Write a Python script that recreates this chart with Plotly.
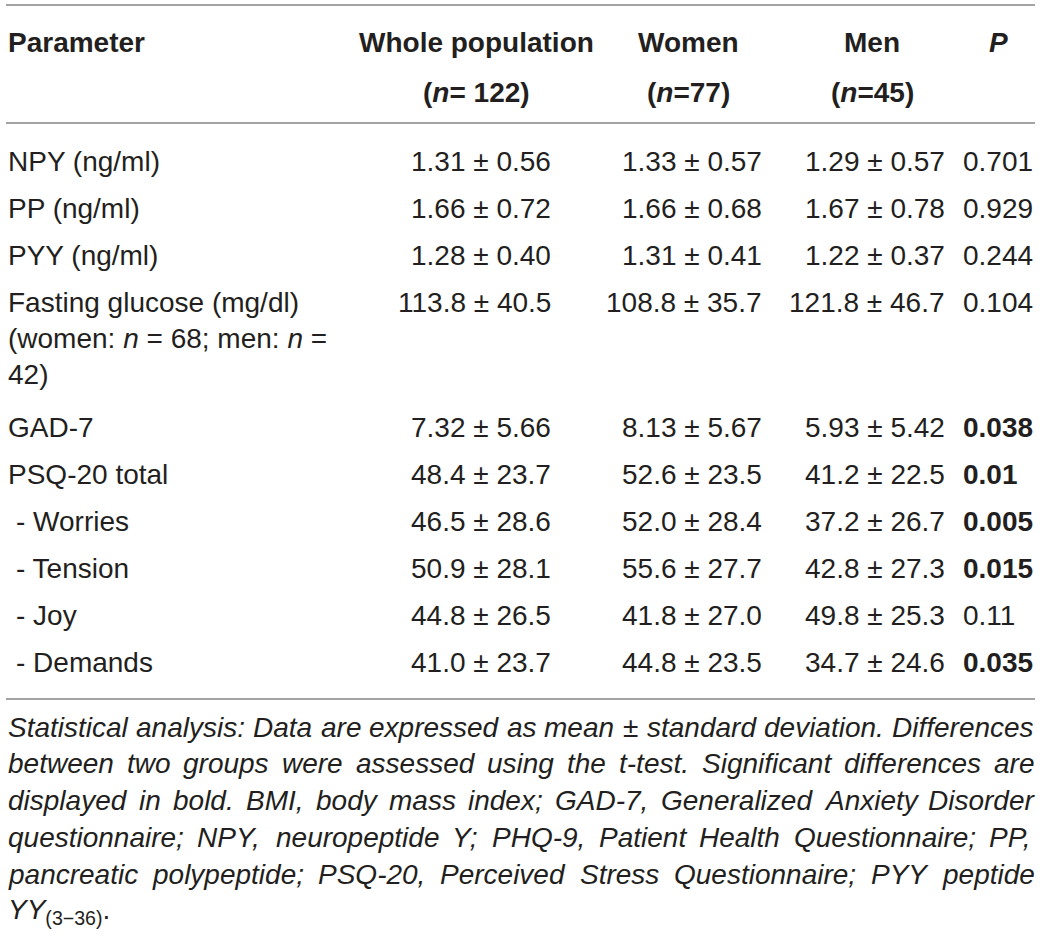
import plotly.graph_objects as go

# ---------------- data ----------------
parameters = [
    "NPY (ng/ml)",
    "PP (ng/ml)",
    "PYY (ng/ml)",
    "Fasting glucose (mg/dl)|(women: <i>n</i> = 68; men: <i>n</i> =|42)",
    "GAD-7",
    "PSQ-20 total",
    "- Worries",
    "- Tension",
    "- Joy",
    "- Demands",
]
indented = [False, False, False, False, False, False, True, True, True, True]

whole_mean = ["1.31", "1.66", "1.28", "113.8", "7.32", "48.4", "46.5", "50.9", "44.8", "41.0"]
whole_sd = ["0.56", "0.72", "0.40", "40.5", "5.66", "23.7", "28.6", "28.1", "26.5", "23.7"]
women_mean = ["1.33", "1.66", "1.31", "108.8", "8.13", "52.6", "52.0", "55.6", "41.8", "44.8"]
women_sd = ["0.57", "0.68", "0.41", "35.7", "5.67", "23.5", "28.4", "27.7", "27.0", "23.5"]
men_mean = ["1.29", "1.67", "1.22", "121.8", "5.93", "41.2", "37.2", "42.8", "49.8", "34.7"]
men_sd = ["0.57", "0.78", "0.37", "46.7", "5.42", "22.5", "26.7", "27.3", "25.3", "24.6"]
p_values = ["0.701", "0.929", "0.244", "0.104", "0.038", "0.01", "0.005", "0.015", "0.11", "0.035"]
significant = [False, False, False, False, True, True, True, True, False, True]

headers = ["Parameter", "Whole population", "Women", "Men", "<i>P</i>"]
header_n = ["", "(<i>n</i>= 122)", "(<i>n</i>=77)", "(<i>n</i>=45)", ""]

footnote_lines = [
    "Statistical analysis: Data are expressed as mean ± standard deviation. Differences",
    "between two groups were assessed using the t-test. Significant differences are",
    "displayed in bold. BMI, body mass index; GAD-7, Generalized Anxiety Disorder",
    "questionnaire; NPY, neuropeptide Y; PHQ-9, Patient Health Questionnaire; PP,",
    "pancreatic polypeptide; PSQ-20, Perceived Stress Questionnaire; PYY peptide",
]
footnote_last = "<i>YY</i><sub>(3−36)</sub>."

# ---------------- style ----------------
W, H = 1042, 940
FONT = "Liberation Sans, Arial, Helvetica, sans-serif"
FS = 28
FFS = 28
TXT = "#231f20"
RULE = "#a3a3a3"

# Arial / Liberation Sans advance widths (per 1000 em)
AW = {
    ' ': 278, 'a': 556, 'b': 556, 'c': 500, 'd': 556, 'e': 556, 'f': 278, 'g': 556, 'h': 556,
    'i': 222, 'j': 222, 'k': 500, 'l': 222, 'm': 833, 'n': 556, 'o': 556, 'p': 556, 'q': 556,
    'r': 333, 's': 500, 't': 278, 'u': 556, 'v': 500, 'w': 722, 'x': 500, 'y': 500, 'z': 500,
    'A': 667, 'B': 667, 'C': 722, 'D': 722, 'E': 667, 'F': 611, 'G': 778, 'H': 722, 'I': 278,
    'J': 500, 'K': 667, 'L': 556, 'M': 833, 'N': 722, 'O': 778, 'P': 667, 'Q': 778, 'R': 722,
    'S': 667, 'T': 611, 'U': 722, 'V': 667, 'W': 944, 'X': 667, 'Y': 667, 'Z': 611,
    '.': 278, ',': 278, ':': 278, ';': 278, '-': 333, '(': 333, ')': 333, '±': 584, '/': 278,
    '=': 584,
}
for d in "0123456789":
    AW[d] = 556


def text_width(s, fs):
    return sum(AW.get(ch, 556) for ch in s) * fs / 1000.0


fig = go.Figure()

ann = []


def add(text, x, y, xanchor="left", size=FS, bold=False, italic=False):
    if bold:
        text = "<b>" + text + "</b>"
    if italic:
        text = "<i>" + text + "</i>"
    ann.append(dict(x=x, y=y, xref="x", yref="y", text=text, showarrow=False,
                    xanchor=xanchor, yanchor="middle", borderpad=0,
                    font=dict(family=FONT, size=size, color=TXT)))


# rules
for yy in (5, 123, 699):
    fig.add_shape(type="line", x0=6, x1=1035, y0=yy, y1=yy, xref="x", yref="y",
                  line=dict(color=RULE, width=2))

# header
col_center = [None, 476, 688, 872, 998]
add(headers[0], 7, 42, "left", bold=True)
for c in range(1, 5):
    add(headers[c], col_center[c], 42, "center", bold=True)
    if header_n[c]:
        add(header_n[c], col_center[c], 92, "center", bold=True)

# body
y = 161
for i, par in enumerate(parameters):
    lines = par.split("|")
    for k, ln in enumerate(lines):
        add(ln, 15 if indented[i] else 7, y + 36 * k, "left")
    add(f"{whole_mean[i]} ± {whole_sd[i]}", 552, y, "right")
    add(f"{women_mean[i]} ± {women_sd[i]}", 763, y, "right")
    add(f"{men_mean[i]} ± {men_sd[i]}", 946, y, "right")
    add(p_values[i], 962, y, "left", bold=significant[i])
    y += 47 + (len(lines) - 1) * 39

# footnote (justified)
x_left, x_right = 7, 1033
fy0, fstep = 727, 36.8
for j, line in enumerate(footnote_lines):
    words = line.split(" ")
    widths = [text_width(w, FFS) for w in words]
    gap = (x_right - x_left - sum(widths)) / (len(words) - 1)
    x = x_left
    for w, wd in zip(words, widths):
        add(w, x, fy0 + fstep * j, "left", size=FFS, italic=True)
        x += wd + gap
add(footnote_last, x_left, fy0 + fstep * len(footnote_lines), "left", size=FFS)

fig.update_layout(
    width=W, height=H,
    margin=dict(l=0, r=0, t=0, b=0),
    paper_bgcolor="white", plot_bgcolor="white",
    xaxis=dict(range=[0, W], visible=False, fixedrange=True),
    yaxis=dict(range=[H, 0], visible=False, fixedrange=True),
    annotations=ann,
    showlegend=False,
)

fig.write_html("out.html", config={"displayModeBar": False},
               post_script="document.body.style.margin='0';document.body.style.overflow='hidden';")
